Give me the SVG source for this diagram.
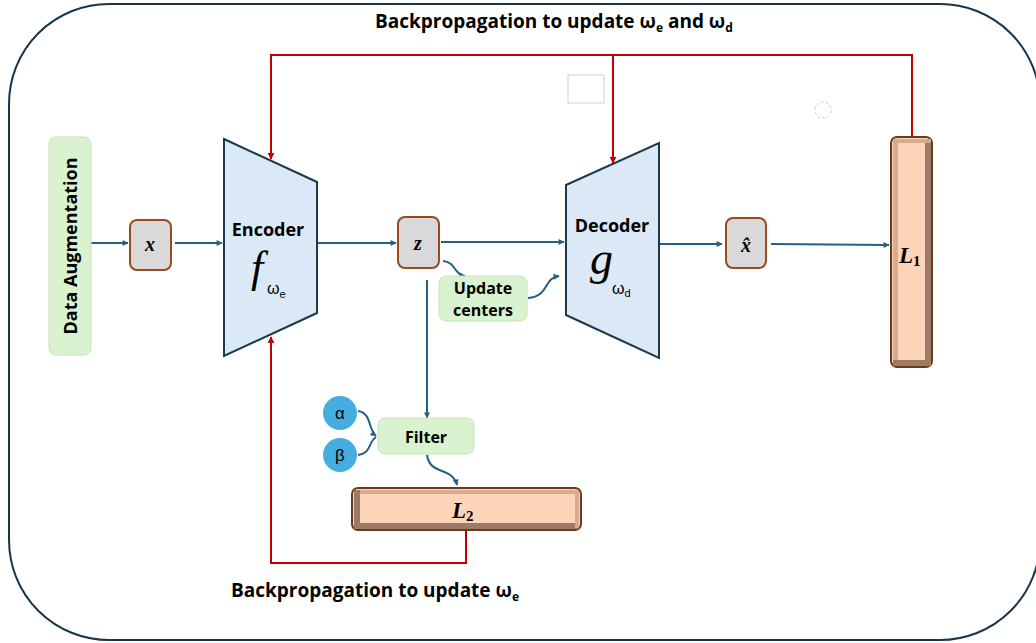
<svg xmlns="http://www.w3.org/2000/svg" width="1036" height="643" viewBox="0 0 1036 643">
<defs>
<style>
.lbl{font-family:"Open Sans","Liberation Sans",Arial,sans-serif;font-weight:bold;fill:#000}
.math{font-family:"Liberation Serif","DejaVu Serif",serif;font-weight:bold;font-style:italic;fill:#000}
.fn{font-family:"Liberation Serif","DejaVu Serif",serif;font-style:italic;fill:#000}
.sub{font-family:"Liberation Sans",Arial,sans-serif;fill:#000}
.blue{stroke:#24607f;stroke-width:2;fill:none}
.red{stroke:#c00000;stroke-width:2;fill:none}
.var{fill:#d9d9d9;stroke:#9a4a1e;stroke-width:2}
.green{fill:#d9f2d0;stroke:#c6e3bb;stroke-width:1}
.trap{fill:#dbe8f5;stroke:#1b3a4b;stroke-width:2}
</style>
<marker id="ab" viewBox="0 0 10 10" refX="9" refY="5" markerWidth="6" markerHeight="6" orient="auto" markerUnits="userSpaceOnUse" overflow="visible">
<path d="M0,0 L10,5 L0,10 z" fill="#24607f"/>
</marker>
<marker id="ar" viewBox="0 0 10 10" refX="9" refY="5" markerWidth="7" markerHeight="7" orient="auto" markerUnits="userSpaceOnUse">
<path d="M0,0 L10,5 L0,10 z" fill="#c00000"/>
</marker>
</defs>
<rect width="1036" height="643" fill="#fff"/>
<rect x="9" y="4" width="1031" height="636" rx="100" ry="100" fill="none" stroke="#17354a" stroke-width="2"/>
<g id="artifacts" fill="none" stroke="#cfcfcf" stroke-width="1">
<rect x="568" y="75" width="36" height="28"/>
<circle cx="823" cy="110" r="8" stroke-dasharray="3 2"/>
</g>
<g id="connectors">
<path class="blue" d="M91,243 H128" marker-end="url(#ab)"/>
<path class="blue" d="M175,243 H222" marker-end="url(#ab)"/>
<path class="blue" d="M318,243 H396" marker-end="url(#ab)"/>
<path class="blue" d="M441,242 H564" marker-end="url(#ab)"/>
<path class="blue" d="M660,244 H722" marker-end="url(#ab)"/>
<path class="blue" d="M771,244 L889,245" marker-end="url(#ab)"/>
<path class="blue" d="M443,261 C456,262 454,275 465,276" marker-end="url(#ab)"/>
<path class="blue" d="M528,298 C550,296 543,278 559,276" marker-end="url(#ab)"/>
<path class="blue" d="M427,280 V418" marker-end="url(#ab)"/>
<path class="blue" d="M358,411 C372,413 368,430 376,436" marker-end="url(#ab)"/>
<path class="blue" d="M358,455 C372,453 368,442 376,437"/>
<path class="blue" d="M427,455 C430,476 452,466 457,485" marker-end="url(#ab)"/>
<path class="red" d="M912,137 V55 H271 V159" marker-end="url(#ar)"/>
<path class="red" d="M613,55 V163" marker-end="url(#ar)"/>
<path class="red" d="M466,530 V563 H271 V337" marker-end="url(#ar)"/>
</g>
<g id="title-top">
<text class="lbl" x="375" y="28" font-size="19">Backpropagation to update ω<tspan font-size="12" dy="4">e</tspan><tspan dy="-4"> and ω</tspan><tspan font-size="12" dy="4">d</tspan></text>
</g>
<g id="title-bottom">
<text class="lbl" x="231" y="597" font-size="19">Backpropagation to update ω<tspan font-size="12" dy="4">e</tspan></text>
</g>
<g id="data-augmentation">
<rect class="green" x="49" y="137" width="42" height="218" rx="7"/>
<text class="lbl" font-size="18" text-anchor="middle" transform="translate(77,246) rotate(-90)">Data Augmentation</text>
</g>
<g id="x">
<rect class="var" x="130" y="220" width="41" height="50" rx="7"/>
<text class="math" x="150" y="251" font-size="20" text-anchor="middle">x</text>
</g>
<g id="encoder">
<polygon class="trap" points="224,139 317,182 317,313 224,356"/>
<text class="lbl" x="268" y="236" font-size="18" text-anchor="middle">Encoder</text>
<text class="fn" x="251" y="282" font-size="44">f</text>
<text class="sub" x="267" y="294" font-size="16">ω<tspan font-size="11" dy="4">e</tspan></text>
</g>
<g id="z">
<rect class="var" x="398" y="217" width="41" height="51" rx="7"/>
<text class="math" x="418" y="250" font-size="20" text-anchor="middle">z</text>
</g>
<g id="update-centers">
<rect class="green" x="439" y="276" width="88" height="45" rx="7"/>
<text class="lbl" x="483" y="294" font-size="16" text-anchor="middle">Update</text>
<text class="lbl" x="483" y="316" font-size="16" text-anchor="middle">centers</text>
</g>
<g id="decoder">
<polygon class="trap" points="566,185 659,143 659,358 566,315"/>
<text class="lbl" x="612" y="232" font-size="18" text-anchor="middle">Decoder</text>
<text class="fn" x="590" y="274" font-size="46">g</text>
<text class="sub" x="612" y="294" font-size="16">ω<tspan font-size="11" dy="3">d</tspan></text>
</g>
<g id="x-hat">
<rect class="var" x="726" y="218" width="40" height="50" rx="7"/>
<text class="math" x="746" y="252" font-size="20" text-anchor="middle">x̂</text>
</g>
<g id="L1">
<rect x="891" y="137" width="41" height="230" rx="6" fill="#fdd4b7" stroke="#6a3a1e" stroke-width="2"/>
<rect x="893" y="139" width="5" height="226" fill="#d9ab8f"/>
<rect x="925" y="139" width="6" height="226" fill="#9b7b68"/>
<rect x="893" y="139" width="38" height="4" fill="#d9ab8f"/>
<rect x="893" y="360" width="38" height="6" fill="#9b7b68"/>
<text class="math" x="899" y="263" font-size="23">L<tspan font-size="15" font-style="normal" dy="3">1</tspan></text>
</g>
<g id="filter">
<rect class="green" x="378" y="418" width="96" height="36" rx="7"/>
<text class="lbl" x="426" y="443" font-size="16" text-anchor="middle">Filter</text>
</g>
<g id="alpha">
<circle cx="340" cy="413" r="17" fill="#45ade0"/>
<text class="sub" x="340" y="419" font-size="17" text-anchor="middle" fill="#fff">α</text>
</g>
<g id="beta">
<circle cx="340" cy="455" r="17" fill="#45ade0"/>
<text class="sub" x="340" y="461" font-size="17" text-anchor="middle" fill="#fff">β</text>
</g>
<g id="L2">
<rect x="352" y="488" width="229" height="42" rx="6" fill="#fdd4b7" stroke="#6a3a1e" stroke-width="2"/>
<rect x="354" y="490" width="225" height="4" fill="#d9ab8f"/>
<rect x="354" y="523" width="225" height="6" fill="#9b7b68"/>
<rect x="354" y="490" width="6" height="38" fill="#9b7b68"/>
<rect x="575" y="490" width="4" height="38" fill="#d9ab8f"/>
<text class="math" x="452" y="518" font-size="23">L<tspan font-size="15" font-style="normal" dy="3">2</tspan></text>
</g>
</svg>
